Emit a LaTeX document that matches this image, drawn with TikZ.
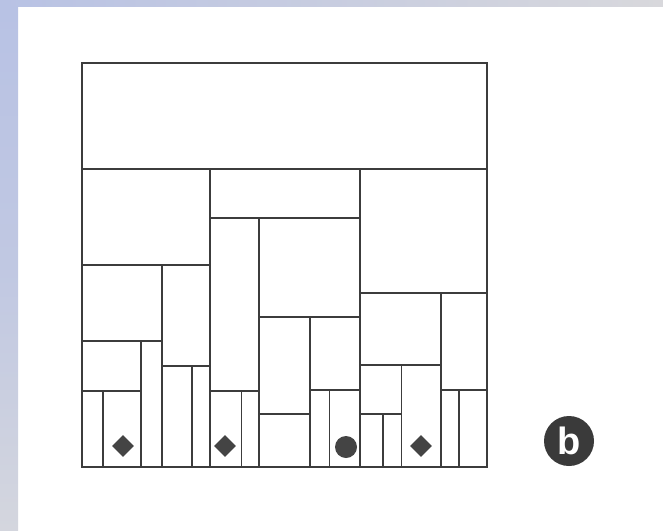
\documentclass[tikz,border=0pt]{standalone}
\usepackage{fontspec}
\setsansfont{Liberation Sans}
\usetikzlibrary{shapes.geometric}
\begin{document}
\begin{tikzpicture}[x=1pt,y=-1pt,
  cell/.style={draw=linegray,line width=1.6pt},
  dia/.style={fill=markgray,draw=none,shape=diamond,minimum size=22pt,inner sep=0pt},
  dot/.style={fill=markgray,draw=none,circle,minimum size=22pt,inner sep=0pt},
  badge/.style={fill=badgegray,draw=none,circle,minimum size=50pt,inner sep=0pt,text=white,font=\sffamily\bfseries\fontsize{38}{38}\selectfont}]
\definecolor{linegray}{HTML}{3C3C3C}
\definecolor{markgray}{HTML}{444444}
\definecolor{badgegray}{HTML}{3A3A3A}
\definecolor{barblue}{HTML}{B8C2E4}
\definecolor{bargray}{HTML}{D8D8DC}
\definecolor{barbottom}{HTML}{D4D6DE}
\useasboundingbox (0,0) rectangle (663,530);
\fill[white] (0,0) rectangle (663,530);
\shade[left color=barblue,right color=bargray] (0,0) rectangle (663,6);
\shade[top color=barblue,bottom color=barbottom,middle color=barblue!70!barbottom] (0,6) rectangle (18,530);
% outer
\draw[cell] (82,63) rectangle (487,467);
\draw[cell] (82,169) -- (487,169);
% left column
\draw[cell] (210,169) -- (210,467);
\draw[cell] (82,265) -- (210,265);
\draw[cell] (162,265) -- (162,467);
\draw[cell] (82,341) -- (162,341);
\draw[cell] (141,341) -- (141,467);
\draw[cell] (82,391) -- (141,391);
\draw[cell] (103,391) -- (103,467);
\draw[cell] (162,366) -- (210,366);
\draw[cell] (192,366) -- (192,467);
% middle column
\draw[cell] (360,169) -- (360,467);
\draw[cell] (210,218) -- (360,218);
\draw[cell] (259,218) -- (259,467);
\draw[cell] (210,391) -- (259,391);
\draw[cell] (241.5,391) -- (241.5,467);
\draw[cell] (259,317) -- (360,317);
\draw[cell] (310,317) -- (310,467);
\draw[cell] (259,414) -- (310,414);
\draw[cell] (310,390) -- (360,390);
\draw[cell] (329.5,390) -- (329.5,467);
% right column
\draw[cell] (360,293) -- (487,293);
\draw[cell] (441,293) -- (441,467);
\draw[cell] (360,365) -- (441,365);
\draw[cell] (401.5,365) -- (401.5,467);
\draw[cell] (360,414) -- (401.5,414);
\draw[cell] (383,414) -- (383,467);
\draw[cell] (441,390) -- (487,390);
\draw[cell] (459,390) -- (459,467);
% marks
\node[dia] (d1) at (123,446) {};
\node[dia] (d2) at (225,446) {};
\node[dot] (c1) at (346,447) {};
\node[dia] (d3) at (421,446) {};
\node[badge] (b) at (569,441) {b};
\end{tikzpicture}
\end{document}
